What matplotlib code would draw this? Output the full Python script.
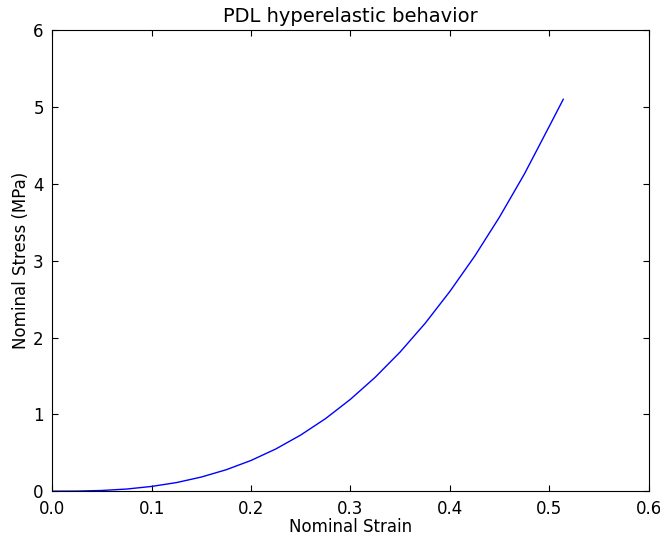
import matplotlib
matplotlib.use('Agg')
from matplotlib import pyplot as plt

# nominal strain / nominal stress (MPa)
strain = [0.0, 0.025, 0.05, 0.075, 0.1, 0.125, 0.15, 0.175, 0.2, 0.225, 0.25,
          0.275, 0.3, 0.325, 0.35, 0.375, 0.4, 0.425, 0.45, 0.475, 0.5, 0.514]
stress = [0.0, 0.0015, 0.0095, 0.028, 0.062, 0.112, 0.184, 0.279, 0.40, 0.550, 0.731,
          0.945, 1.196, 1.484, 1.812, 2.183, 2.60, 3.06, 3.57, 4.13, 4.75, 5.10]

plt.rcParams['font.family'] = ['DejaVu Sans']
plt.rcParams['font.size'] = 12

fig = plt.figure(figsize=(6.6, 5.38), dpi=100)
ax = fig.add_axes([0.079, 0.087, 0.904, 0.857])

ax.plot(strain, stress, color='b', linewidth=1.0)

ax.set_xlim(0, 0.6)
ax.set_ylim(0, 6)
ax.set_xticks([0.0, 0.1, 0.2, 0.3, 0.4, 0.5, 0.6])
ax.set_yticks([0, 1, 2, 3, 4, 5, 6])
ax.tick_params(direction='in', top=True, right=True, length=4, labelsize=12, pad=6)

# 轴标签
ax.set_xlabel('Nominal Strain', size=12, labelpad=0)
ax.set_ylabel('Nominal Stress (MPa)', size=12, labelpad=2)
ax.set_title('PDL hyperelastic behavior', size=14)

plt.savefig('out.png')
